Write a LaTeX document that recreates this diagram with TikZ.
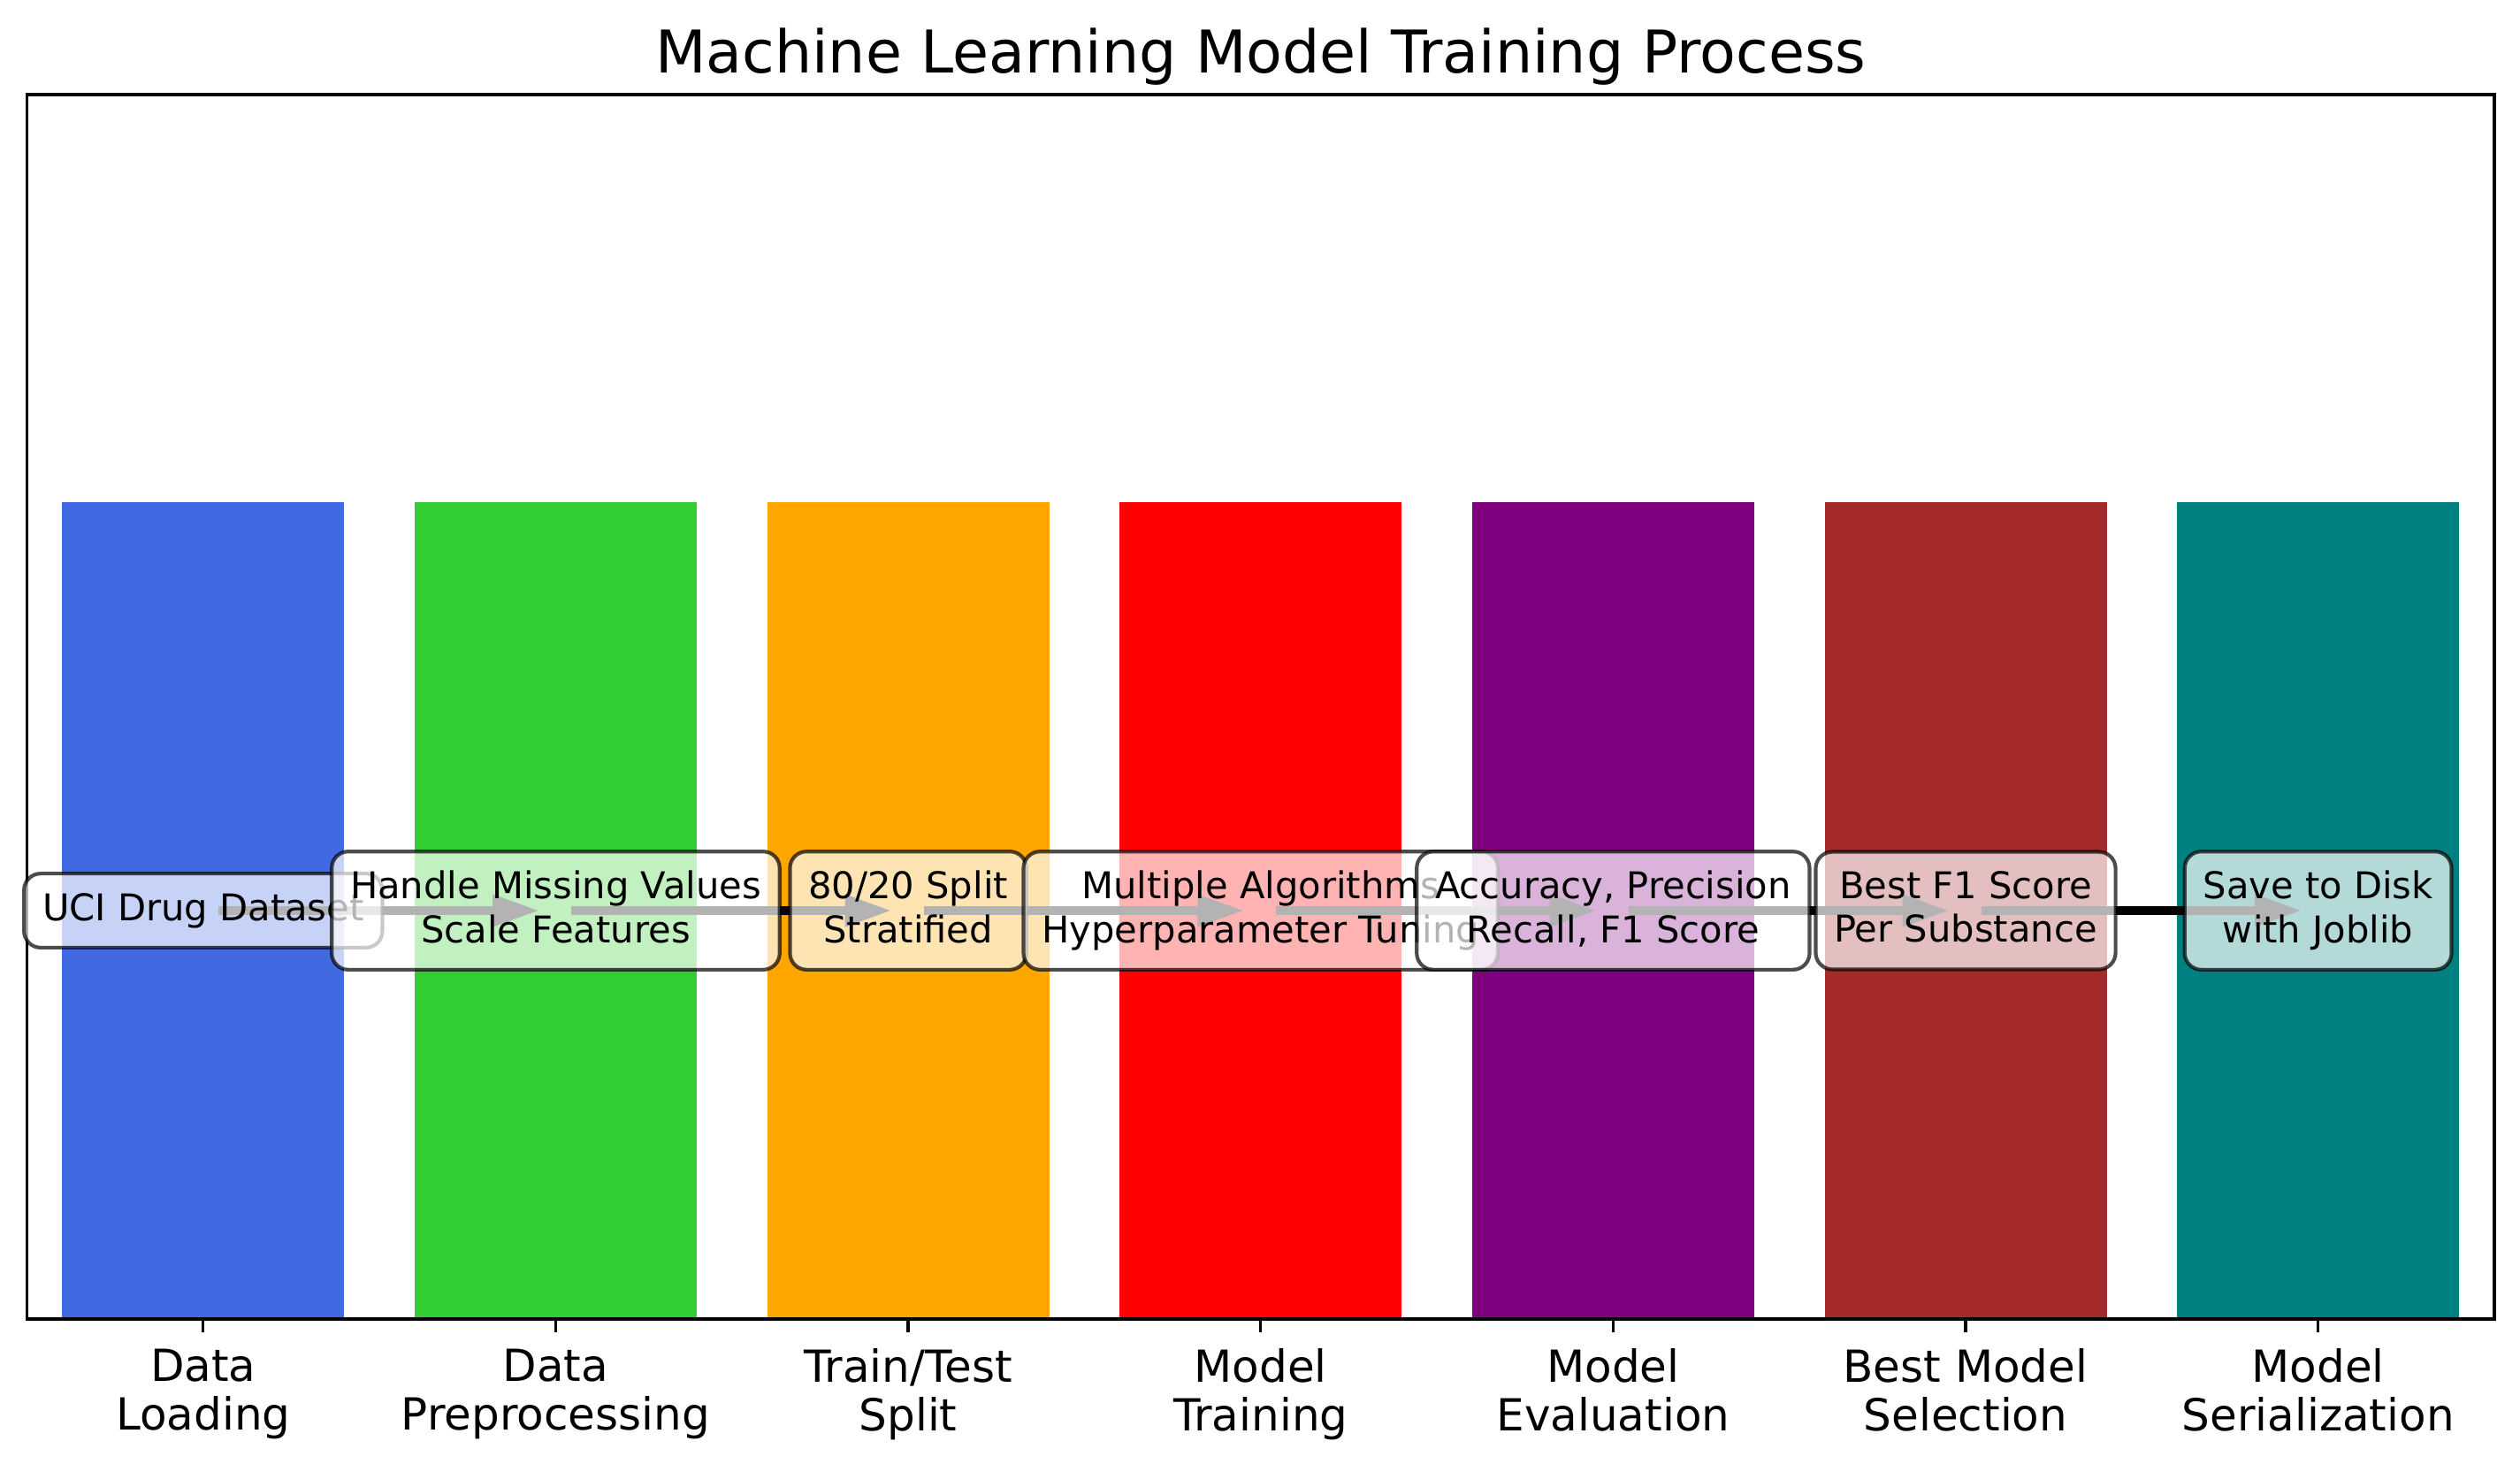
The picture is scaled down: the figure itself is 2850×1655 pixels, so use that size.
\documentclass[tikz,border=0pt]{standalone}
\usepackage{fontspec}
\setmainfont{DejaVu Sans}
\usetikzlibrary{arrows.meta}
\definecolor{cRoyal}{RGB}{65,105,225}
\definecolor{cLime}{RGB}{50,205,50}
\definecolor{cOrange}{RGB}{255,165,0}
\definecolor{cRed}{RGB}{255,0,0}
\definecolor{cPurple}{RGB}{128,0,128}
\definecolor{cBrown}{RGB}{165,42,42}
\definecolor{cTeal}{RGB}{0,128,128}
\newcommand\myph{\vphantom{Ag}}
\begin{document}
\begin{tikzpicture}[x=0.24pt,y=-0.24pt,
  flowarrow/.style={draw=black, line width=2.4pt, -{Triangle[length=12.7pt,width=8.2pt]}, shorten <=4.2pt, shorten >=4.45pt},
  descbox/.style={draw=black, draw opacity=0.7, fill=white, fill opacity=0.7, text opacity=1, line width=1pt, rounded corners=4.5pt, inner xsep=5pt, inner ysep=5.3pt, align=center, font=\fontsize{10}{11.8}\selectfont},
  ticklabel/.style={anchor=north, inner sep=0pt, align=center, font=\fontsize{12}{13.2}\selectfont},
  spine/.style={draw=black, line width=0.8pt}]
\useasboundingbox (0,0) rectangle (2850,1655);
% bars
\foreach \i/\c in {0/cRoyal,1/cLime,2/cOrange,3/cRed,4/cPurple,5/cBrown,6/cTeal}{
  \fill[\c] ({30.5+(\i+0.1)*398.64},568) rectangle ({30.5+(\i+0.9)*398.64},1492);
  \coordinate (p\i) at ({30.5+(\i+0.5)*398.64},1030);
  \draw[spine] ({30.5+(\i+0.5)*398.64},1492) -- ++(0,15);
}
% frame
\draw[spine] (30.5,107) rectangle (2821,1492);
% title
\node[font=\fontsize{16}{19}\selectfont, anchor=base, inner sep=0pt] (title) at (1425.75,82) {Machine Learning Model Training Process};
% arrows
\draw[flowarrow] (p0) -- (p1);
\draw[flowarrow] (p1) -- (p2);
\draw[flowarrow] (p2) -- (p3);
\draw[flowarrow] (p3) -- (p4);
\draw[flowarrow] (p4) -- (p5);
\draw[flowarrow] (p5) -- (p6);
% description boxes
\node[descbox] (d0) at (p0) {\myph UCI Drug Dataset\myph};
\node[descbox] (d1) at (p1) {\myph Handle Missing Values\\Scale Features\myph};
\node[descbox] (d2) at (p2) {\myph 80/20 Split\\Stratified\myph};
\node[descbox] (d3) at (p3) {\myph Multiple Algorithms\\Hyperparameter Tuning\myph};
\node[descbox] (d4) at (p4) {\myph Accuracy, Precision\\Recall, F1 Score\myph};
\node[descbox] (d5) at (p5) {\myph Best F1 Score\\Per Substance\myph};
\node[descbox] (d6) at (p6) {\myph Save to Disk\\with Joblib\myph};
% tick labels
\node[ticklabel] (t0) at ({30.5+0.5*398.64},1525) {Data\\Loading};
\node[ticklabel] (t1) at ({30.5+1.5*398.64},1525) {Data\\Preprocessing};
\node[ticklabel] (t2) at ({30.5+2.5*398.64},1525) {Train/Test\\Split};
\node[ticklabel] (t3) at ({30.5+3.5*398.64},1525) {Model\\Training};
\node[ticklabel] (t4) at ({30.5+4.5*398.64},1525) {Model\\Evaluation};
\node[ticklabel] (t5) at ({30.5+5.5*398.64},1525) {Best Model\\Selection};
\node[ticklabel] (t6) at ({30.5+6.5*398.64},1525) {Model\\Serialization};
\end{tikzpicture}
\end{document}
